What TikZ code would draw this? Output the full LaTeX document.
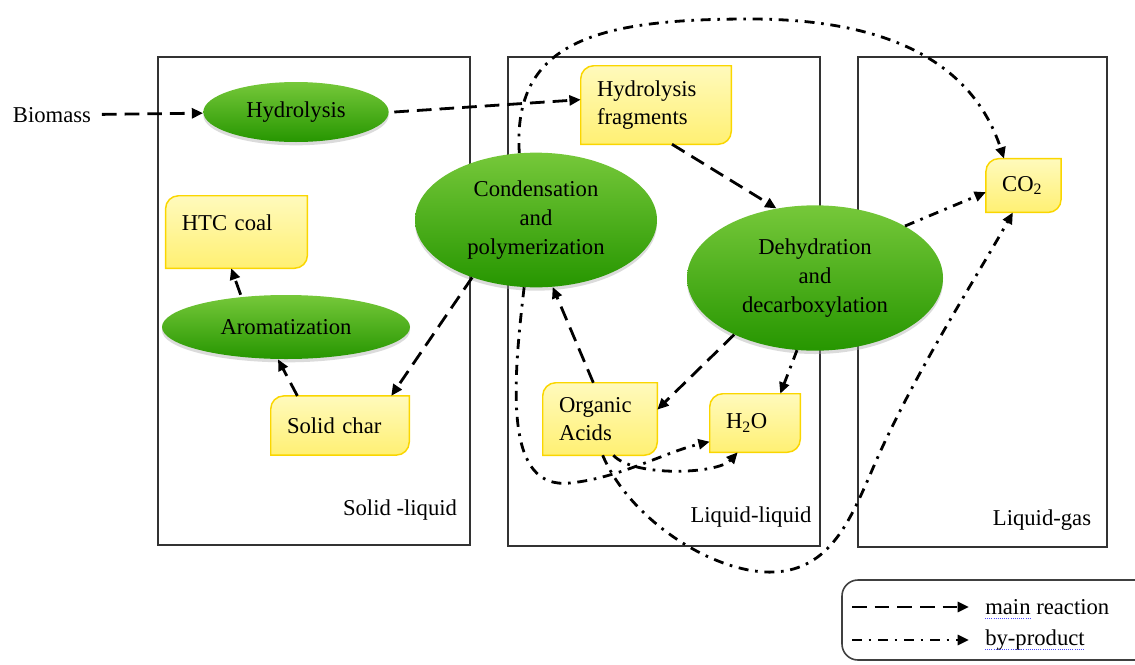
\documentclass[tikz,border=0pt]{standalone}
\usepackage{fontspec}
\setmainfont{Liberation Serif}
\usepackage{tikz}
\usetikzlibrary{calc,arrows.meta,shapes.geometric,shadows}
\pgfdeclarelayer{back}
\pgfsetlayers{back,main}
\definecolor{leafTop}{RGB}{118,200,58}
\definecolor{leafBot}{RGB}{38,150,0}
\definecolor{paleYel}{RGB}{255,250,188}
\definecolor{deepYel}{RGB}{255,240,115}
\definecolor{goldRim}{RGB}{250,214,0}

\begin{document}
\begin{tikzpicture}[x=0.75pt,y=-0.75pt,
	font=\fontsize{17}{21.5}\selectfont,
	reac/.style={ellipse, inner sep=0pt, align=center, top color=leafTop, bottom color=leafBot,
		drop shadow={shadow xshift=0pt, shadow yshift=-2.5pt, fill=black!35, opacity=.4}},
	prod/.style 2 args={rectangle, inner xsep=12pt, inner ysep=0pt, align=left, text width=#1, minimum height=#2},
	yelbox/.style={draw=goldRim, line width=1.1pt, top color=paleYel, bottom color=deepYel},
	frame/.style={draw=black!80, line width=1.1pt},
	main/.style={line width=2.1pt, dash pattern=on 11pt off 6pt, -{Triangle[length=8.5pt,width=7.5pt]}},
	side/.style={line width=2.1pt, dash pattern=on 7.5pt off 5pt on 2pt off 5pt, -{Triangle[length=8.5pt,width=7.5pt]}}]
	\useasboundingbox (0,0) rectangle (1135,664);
	\clip (0,0) rectangle (1135,664);
	
	%phases
	\draw[frame] (158,57) rectangle (470,545);
	\draw[frame] (508,57) rectangle (820,546);
	\draw[frame] (858,57) rectangle (1107,547);
	\node (slab) at (400,510) {Solid -liquid};
	\node (llab) at (751,517) {Liquid-liquid};
	\node (glab) at (1042,520) {Liquid-gas};
	
	%reactions
	\node[inner xsep=8pt] (bio) at (52,115) {Biomass};
	\node[reac, minimum width=139pt, minimum height=45pt] (hyd) at (296,112) {Hydrolysis};
	\node[reac, minimum width=181.5pt, minimum height=101pt] (cond) at (536,220) {Condensation\\and\\polymerization};
	\node[reac, minimum width=192pt, minimum height=109pt] (dehyd) at (815,278) {Dehydration\\and\\decarboxylation};
	\node[reac, minimum width=186pt, minimum height=48pt] (arom) at (286,327) {Aromatization};
	
	%products
	\node[prod={82pt}{54pt}, text depth=14pt] (htc) at (236.5,232) {HTC coal};
	\node[prod={88.5pt}{58.5pt}] (frag) at (656,105) {Hydrolysis\\fragments};
	\node[prod={79.5pt}{44pt}] (char) at (340,425.5) {Solid char};
	\node[prod={61.5pt}{54pt}] (acids) at (600,419) {Organic\\Acids};
	\node[prod={43.5pt}{43.5pt}] (water) at (755,423) {H\textsubscript{2}O};
	\node[prod={32pt}{40pt}] (co2) at (1023.5,185.5) {CO\textsubscript{2}};
	\begin{pgfonlayer}{back}
		%rounded top left and bottom right
		\foreach \b in {htc,frag,char,acids,water,co2}{
			\path (\b.north west) coordinate (tl) (\b.north east) coordinate (tr)
				(\b.south east) coordinate (br) (\b.south west) coordinate (bl);
			\draw[yelbox] ($(tl)+(0,13)$) .. controls ($(tl)+(0,5.8)$) and ($(tl)+(5.8,0)$) .. ($(tl)+(13,0)$)
				-- (tr) -- ($(br)+(0,-13)$) .. controls ($(br)+(0,-5.8)$) and ($(br)+(-5.8,0)$) .. ($(br)+(-13,0)$)
				-- (bl) -- cycle;
		}
	\end{pgfonlayer}
	
	%main reaction
	\draw[main] (bio) -- (hyd);
	\draw[main] ([xshift=4pt]hyd.east) -- ([yshift=4pt]frag.west);
	\draw[main] ([xshift=12pt]frag.south) -- (dehyd.119);
	\draw[main] (dehyd.215) -- ([yshift=7pt]acids.east);
	\draw[main] ([xshift=-5pt]acids.north) -- (cond.284);
	\draw[main] (cond.222) -- ([xshift=-13.5pt]char.north east);
	\draw[main] ([xshift=20pt]char.north west) -- ([xshift=-6pt]arom.south);
	\draw[main] ([xshift=-34pt]arom.north) -- ([xshift=-4pt]htc.south);
	
	%by-product
	\draw[side] (dehyd.30) -- ([yshift=-5pt]co2.west);
	\draw[side] (dehyd.256) -- ([xshift=-15pt]water.north east);
	\draw[side] ([xshift=10pt]acids.south) .. controls +(20,22) and +(-20,22) .. ([xshift=-13pt]water.south);
	\draw[side] (cond.260) .. controls (512,390) and (505,490) .. (570,483)
		.. controls (620,478) and (665,452) .. ([yshift=-14pt]water.west);
	\draw[side] (cond.104) .. controls (512,40) and (600,19) .. (750,19)
		.. controls (900,19) and (975,70) .. ([xshift=-14.6pt]co2.north);
	\draw[side] ([xshift=2pt]acids.south) .. controls (630,520) and (715,575) .. (775,572)
		.. controls (830,569) and (850,520) .. (870,475)
		.. controls (910,380) and (975,280) .. ([xshift=-8pt]co2.south);
	
	%legend
	\draw[draw=black!75, line width=1.2pt, rounded corners=12pt] (1150,660) -- (842,660) -- (842,580) -- (1150,580);
	\coordinate (l1) at (852,607);
	\coordinate (l2) at (852,640);
	\node[anchor=west, inner xsep=12pt] (lgmain) at (969,607) {main reaction};
	\node[anchor=west, inner xsep=12pt] (lgside) at (969,640) {by-product};
	\draw[main] (l1) -- (lgmain.west);
	\draw[side] (l2) -- (lgside.west);
	\draw[blue!70, densely dotted, line width=.6pt] ([xshift=12pt,yshift=-3pt]lgmain.base west) -- ++(34pt,0);
	\draw[blue!70, densely dotted, line width=.6pt] ([xshift=12pt,yshift=-3pt]lgside.base west) -- ++(75pt,0);
\end{tikzpicture}
\end{document}
